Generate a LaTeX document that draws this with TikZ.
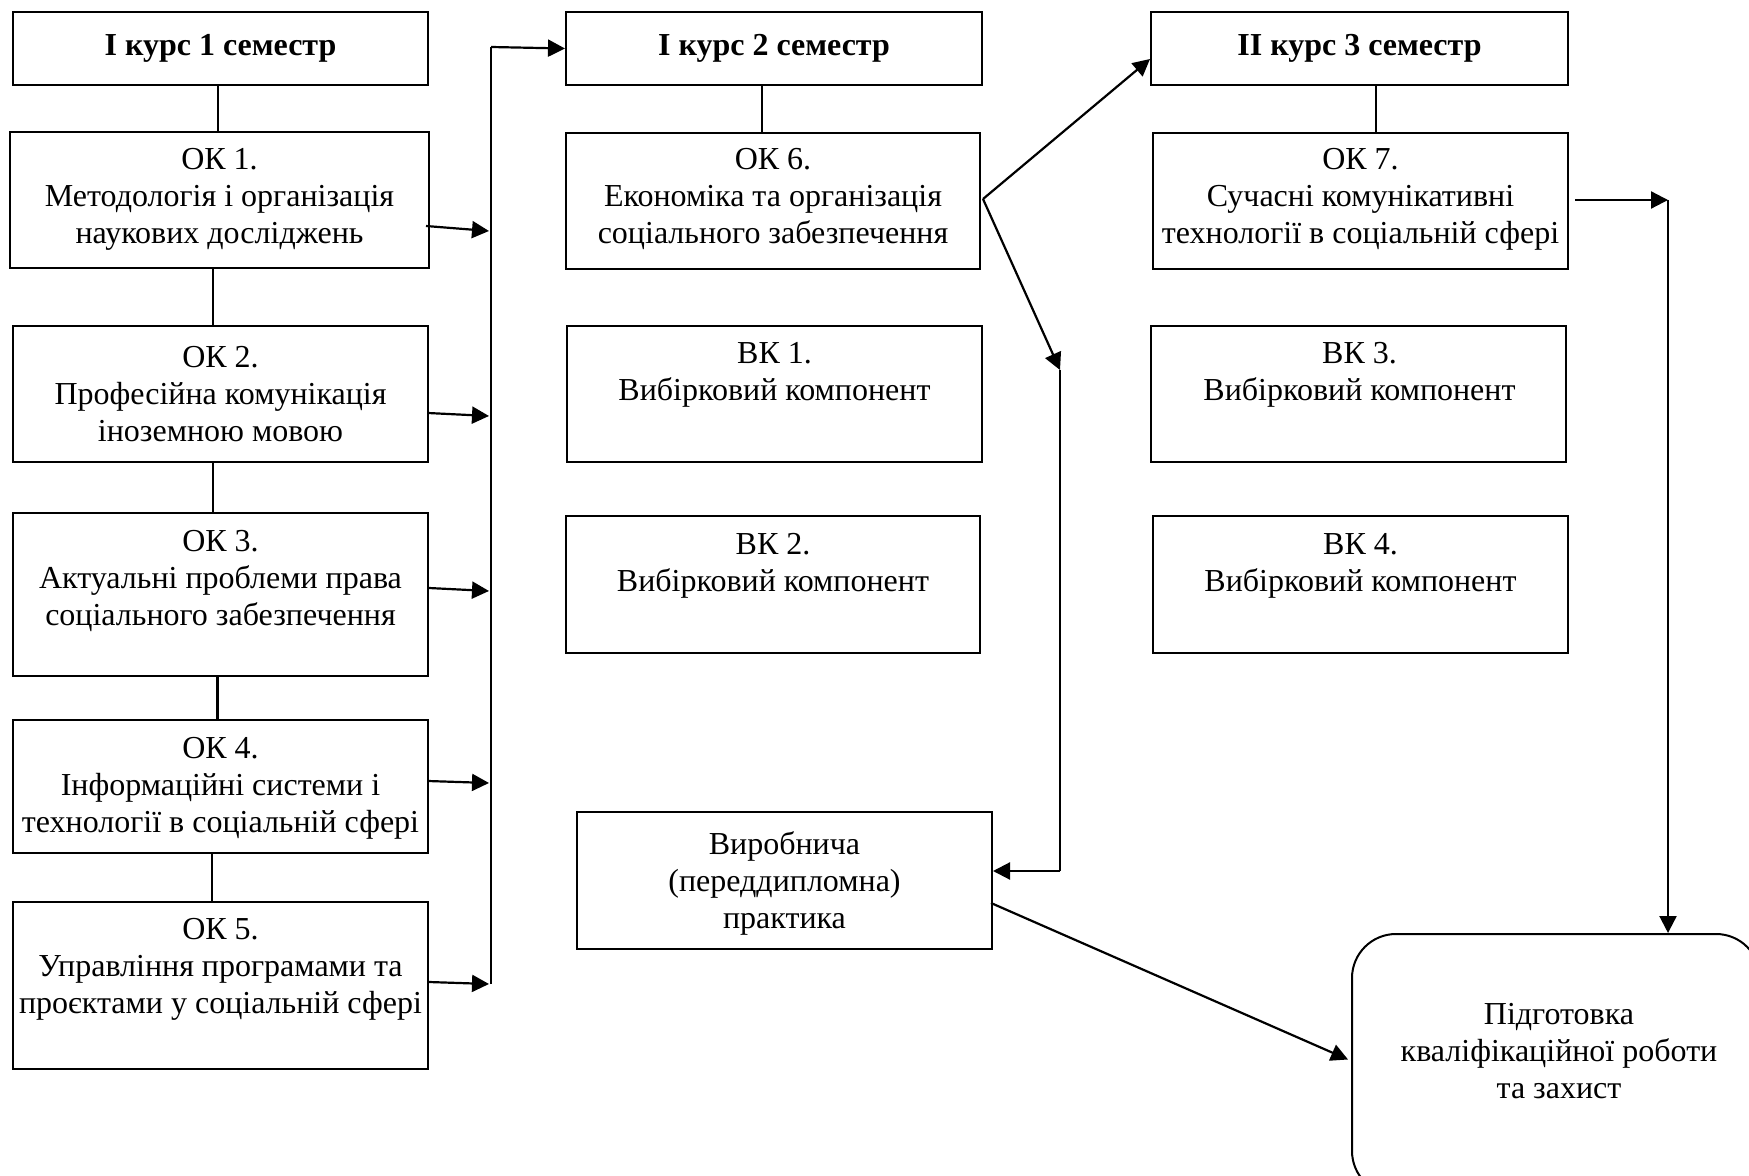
\documentclass[tikz,border=0pt]{standalone}
\usepackage{fontspec}
\setmainfont{Liberation Serif}
\usetikzlibrary{arrows.meta,calc}
\begin{document}
\begin{tikzpicture}[x=0.5pt,y=-0.5pt,
  bx/.style 2 args={draw, line width=1pt, minimum width=#1, minimum height=#2, inner sep=0pt},
  txt/.style={align=center, inner sep=0pt, yshift=-1.5pt, font=\fontsize{16}{18.5}\selectfont},
  hd/.style={font=\fontsize{16}{18.5}\selectfont\bfseries},
  ln/.style={line width=1.1pt},
  arr/.style={line width=1.1pt, -{Triangle[length=8.5pt,width=8.5pt]}}]
\useasboundingbox (0,0) rectangle (1749,1176);
% column 1
\node[bx={207.5pt}{36.5pt}, hd] (h1) at (220.5,48.5) {І курс 1 семестр};
\node[bx={209.5pt}{68pt}] (ok1) at (219.5,200) {};
\node[txt] (ok1t) at (219.5,196) {ОК 1.\\Методологія і організація\\наукових досліджень};
\node[bx={207.5pt}{68pt}] (ok2) at (220.5,394) {};
\node[txt] (ok2t) at (220.5,391) {ОК 2.\\Професійна комунікація\\іноземною мовою};
\node[bx={207.5pt}{81.5pt}] (ok3) at (220.5,594.5) {};
\node[txt] (ok3t) at (220.5,578) {ОК 3.\\Актуальні проблеми права\\соціального забезпечення};
\node[bx={207.5pt}{66.5pt}] (ok4) at (220.5,786.5) {};
\node[txt] (ok4t) at (220.5,785) {ОК 4.\\Інформаційні системи і\\технології в соціальній сфері};
\node[bx={207.5pt}{83.5pt}] (ok5) at (220.5,985.5) {};
\node[txt] (ok5t) at (220.5,966) {ОК 5.\\Управління програмами та\\проєктами у соціальній сфері};
% column 2
\node[bx={208pt}{36.5pt}, hd] (h2) at (774,48.5) {І курс 2 семестр};
\node[bx={207pt}{68pt}] (ok6) at (773,201) {};
\node[txt] (ok6t) at (773,196) {ОК 6.\\Економіка та організація\\соціального забезпечення};
\node[bx={207.5pt}{68pt}] (vk1) at (774.5,394) {};
\node[txt] (vk1t) at (774.5,372) {ВК 1.\\Вибірковий компонент};
\node[bx={207pt}{68.5pt}] (vk2) at (773,584.5) {};
\node[txt] (vk2t) at (773,563) {ВК 2.\\Вибірковий компонент};
\node[bx={207.5pt}{68.5pt}] (vir) at (784.5,880.5) {};
\node[txt] (virt) at (784.5,880) {Виробнича\\(переддипломна)\\практика};
% column 3
\node[bx={208.5pt}{36.5pt}, hd] (h3) at (1359.5,48.5) {ІІ курс 3 семестр};
\node[bx={207.5pt}{68pt}] (ok7) at (1360.5,201) {};
\node[txt] (ok7t) at (1360.5,196) {ОК 7.\\Сучасні комунікативні\\технології в соціальній сфері};
\node[bx={207.5pt}{68pt}] (vk3) at (1358.5,394) {};
\node[txt] (vk3t) at (1359.5,372) {ВК 3.\\Вибірковий компонент};
\node[bx={207.5pt}{68.5pt}] (vk4) at (1360.5,584.5) {};
\node[txt] (vk4t) at (1360.5,563) {ВК 4.\\Вибірковий компонент};
\node[bx={204pt}{130.5pt}, rounded corners=22pt] (rb) at (1556,1064.5) {};
\node[txt] (rbt) at (1559,1048) {Підготовка\\кваліфікаційної роботи\\та захист};
% vertical links
\draw[ln] ($(h1.south)+(-2.5,0)$) -- ($(ok1.north)+(-1.5,0)$);
\draw[ln] ($(ok1.south)+(-6.5,0)$) -- ($(ok2.north)+(-7.5,0)$);
\draw[ln] ($(ok2.south)+(-7.5,0)$) -- ($(ok3.north)+(-7.5,0)$);
\draw[ln] ($(ok3.south)+(-3,0)$) -- ($(ok4.north)+(-3,0)$);
\draw[ln] ($(ok4.south)+(-8.5,0)$) -- ($(ok5.north)+(-8.5,0)$);
\draw[ln] ($(h2.south)+(-12,0)$) -- ($(ok6.north)+(-11,0)$);
\draw[ln] ($(h3.south)+(16.5,0)$) -- ($(ok7.north)+(15.5,0)$);
% bus
\coordinate (bt) at (491,47);
\coordinate (bb) at (491,984);
\draw[ln] (bb) -- (bt);
\draw[arr] (bt) -- (h2.west);
\coordinate (a1) at (489,231);
\coordinate (a2) at (489,416);
\coordinate (a3) at (489,591);
\coordinate (a4) at (489,783);
\coordinate (a5) at (489,984);
\draw[arr] ($(ok1.east)+(-4,26)$) -- (a1);
\draw[arr] ($(ok2.east)+(-1,19)$) -- (a2);
\draw[arr] ($(ok3.east)+(0,-6.5)$) -- (a3);
\draw[arr] ($(ok4.east)+(-1,-5.5)$) -- (a4);
\draw[arr] ($(ok5.east)+(0,-3.5)$) -- (a5);
% from OK6
\coordinate (vt) at (1060,370);
\coordinate (vb) at (1060,871);
\draw[arr] ($(ok6.east)+(2,-2)$) -- ($(h3.west)+(0,10.5)$);
\draw[arr] ($(ok6.east)+(2,-2)$) -- (vt);
\draw[ln] (vt) -- (vb);
\draw[arr] (vb) -- (vb -| vir.east);
\draw[arr] ($(vir.east)+(-2,22.5)$) -- ($(rb.west)+(-3,-5)$);
% from OK7
\coordinate (rt) at (1668,200);
\draw[arr] ($(ok7.east)+(6,-1)$) -- (rt);
\draw[arr] (rt) -- (rt |- rb.north);
\end{tikzpicture}
\end{document}
